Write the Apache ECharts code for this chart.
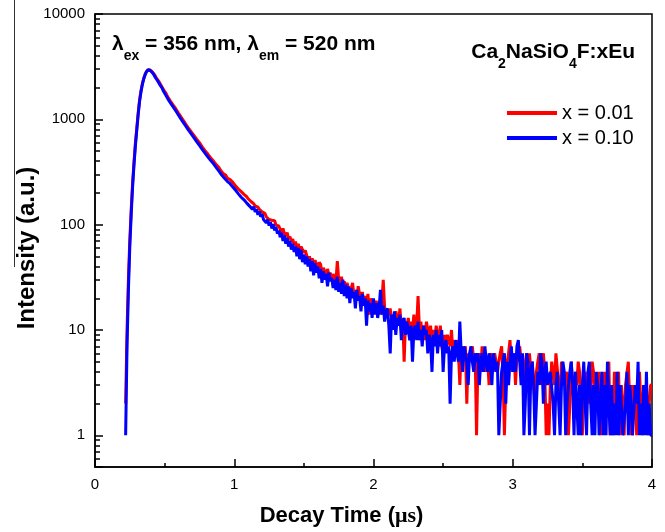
<!DOCTYPE html>
<html>
<head>
<meta charset="utf-8">
<script src="https://cdn.jsdelivr.net/npm/echarts@6/dist/echarts.min.js"></script>
<style>
  html, body { margin: 0; background: #fff; }
  #chart { width: 665px; height: 532px; }
</style>
</head>
<body>
<div id="chart"></div>
<script>
// time grid of the decay curves (μs)
const timeStart = 0.22;
const timeStep = 0.01;

// x = 0.01 (red), one row = 0.1 μs
const redValues = [
  2, 10, 31, 72, 140, 250, 392, 590, 822, 1150,
  1520, 1860, 2180, 2450, 2680, 2850, 2930, 2970, 2920, 2830,
  2730, 2620, 2480, 2400, 2280, 2190, 2040, 1960, 1840, 1760,
  1650, 1580, 1500, 1450, 1370, 1320, 1260, 1210, 1140, 1090,
  1045, 995, 950, 905, 875, 830, 800, 765, 738, 705,
  678, 648, 625, 600, 575, 548, 530, 505, 488, 468,
  452, 432, 420, 402, 392, 372, 360, 348, 330, 316,
  306, 296, 294, 276, 274, 268, 262, 252, 248, 232,
  226, 218, 212, 206, 200, 194, 188, 184, 176, 170,
  166, 162, 158, 151, 149, 147, 140, 141, 132, 131,
  128, 119, 124, 112, 117, 110, 106, 109, 99, 101,
  97, 90, 84, 92, 82, 78, 84, 73, 77, 69,
  73, 64, 69, 60, 66, 56, 62, 58, 54, 57,
  55, 46, 50, 42, 48, 40, 46, 42, 38, 44,
  42, 34, 39, 36, 31, 38, 33, 35, 30, 34,
  33, 28, 45, 30, 27, 32, 26, 29, 25, 28,
  27, 22, 25, 28, 21, 24, 20, 26, 22, 19,
  23, 18, 21, 17, 22, 14, 20, 16, 19, 17,
  19, 15, 17, 14, 18, 30, 16, 13, 15, 14,
  16, 12, 14, 11, 15, 13, 12, 16, 10, 13,
  5, 12, 11, 13, 9, 12, 10, 14, 9, 11,
  21, 10, 12, 9, 11, 8, 12, 10, 9, 11,
  7, 10, 8, 11, 9, 8, 11, 7, 6, 9,
  7, 9, 8, 7, 10, 6, 8, 7, 8, 6,
  3, 7, 6, 5, 7, 2, 6, 5, 6, 7,
  5, 6, 1, 5, 6, 4, 7, 5, 6, 4,
  5, 3, 6, 5, 4, 6, 5, 4, 5, 6,
  7, 4, 1, 3, 5, 6, 8, 5, 4, 6,
  3, 6, 5, 7, 5, 4, 3, 5, 6, 4,
  6, 4, 5, 3, 2, 4, 5, 6, 3, 5,
  6, 4, 1, 2, 1, 3, 5, 4, 3, 6,
  6, 3, 2, 5, 4, 3, 3, 4, 1, 2,
  5, 3, 2, 4, 3, 5, 4, 2, 1, 3,
  4, 2, 3, 2, 3, 5, 4, 2, 3, 2,
  4, 1, 3, 2, 4, 2, 3, 5, 1, 2,
  1, 4, 3, 2, 4, 1, 3, 2, 1, 3,
  3, 5, 2, 1, 3, 2, 3, 1, 2, 4,
  4, 1, 3, 2, 3, 1, 2, 3, 3
];

// x = 0.10 (blue)
const blueValues = [
  1, 7, 24, 62, 125, 228, 370, 560, 790, 1100,
  1480, 1820, 2140, 2420, 2650, 2830, 2960, 2950, 2890, 2800,
  2690, 2540, 2450, 2310, 2240, 2090, 2000, 1870, 1800, 1680,
  1610, 1510, 1470, 1380, 1340, 1260, 1240, 1150, 1110, 1040,
  1015, 950, 925, 870, 850, 795, 775, 730, 720, 670,
  655, 615, 608, 565, 552, 518, 508, 478, 472, 440,
  432, 408, 406, 380, 373, 350, 346, 322, 317, 296,
  293, 276, 272, 258, 263, 245, 248, 228, 232, 212,
  208, 196, 200, 182, 190, 172, 178, 160, 167, 150,
  152, 140, 148, 132, 140, 124, 134, 119, 126, 112,
  116, 104, 112, 98, 106, 92, 101, 88, 95, 82,
  88, 76, 84, 70, 79, 66, 75, 62, 70, 58,
  66, 55, 62, 50, 60, 47, 58, 44, 52, 42,
  50, 40, 47, 36, 45, 33, 43, 35, 40, 31,
  38, 28, 36, 30, 34, 26, 35, 29, 31, 25,
  30, 24, 32, 23, 28, 22, 30, 21, 27, 20,
  26, 18, 25, 20, 23, 16, 24, 19, 21, 15,
  22, 17, 20, 11, 19, 15, 18, 13, 20, 14,
  18, 13, 16, 24, 14, 17, 12, 15, 16, 11,
  6, 14, 10, 15, 9, 13, 11, 14, 8, 12,
  13, 9, 12, 10, 8, 11, 5, 10, 11, 8,
  12, 8, 10, 7, 11, 9, 10, 6, 9, 8,
  4, 9, 7, 10, 6, 9, 7, 10, 4, 7,
  8, 6, 7, 2, 6, 7, 5, 8, 6, 5,
  12, 6, 4, 7, 6, 5, 3, 6, 7, 5,
  4, 6, 5, 6, 3, 5, 6, 4, 7, 5,
  4, 6, 5, 3, 6, 5, 4, 5, 1, 2,
  4, 5, 6, 2, 5, 3, 5, 7, 4, 6,
  4, 7, 8, 5, 3, 6, 1, 2, 6, 5,
  1, 4, 5, 3, 1, 2, 4, 3, 6, 5,
  2, 4, 5, 3, 3, 4, 4, 2, 1, 3,
  4, 2, 1, 3, 5, 4, 1, 2, 3, 4,
  5, 3, 1, 4, 2, 1, 3, 1, 3, 5,
  2, 1, 4, 5, 2, 1, 3, 1, 4, 3,
  1, 2, 4, 1, 3, 1, 5, 2, 1, 3,
  1, 2, 1, 4, 1, 3, 2, 1, 1, 2,
  4, 1, 3, 2, 1, 1, 3, 2, 5, 1,
  2, 1, 3, 1, 4, 1, 2, 1, 1
];

const seriesNames = ["x = 0.01", "x = 0.10"];
const seriesColors = ["#ff0000", "#0000ff"];

// minor ticks of the log axis: 0.6..0.9, 2..9, 20..90 ...
const minorMultiples = [2, 3, 4, 5, 6, 7, 8, 9];
const minorDecades = [0.1, 1, 10, 100, 1000];
const yMin = 0.5;
const yMax = 10000;

const sans = '"Liberation Sans", Arial, sans-serif';

const times = redValues.map((v, i) => +(timeStart + i * timeStep).toFixed(2));

const minorTickPositions = [];
minorDecades.forEach((d) => {
  minorMultiples.forEach((m) => {
    if (d * m > yMin) minorTickPositions.push(Math.log10(d * m));
  });
});

// text with subscripts, laid out piece by piece
const mainSize = 21;
const subSize = 14;
const measureCtx = document.createElement("canvas").getContext("2d");
function textWidth(text, size) {
  measureCtx.font = `bold ${size}px ${sans}`;
  return measureCtx.measureText(text).width;
}
function subscriptText(parts, x, y, align) {
  const widths = parts.map(([s, sub]) => textWidth(s, sub ? subSize : mainSize));
  const total = widths.reduce((a, b) => a + b, 0);
  let cx = align === "right" ? x - total : x;
  return parts.map(([s, sub], i) => {
    const el = {
      type: "text",
      x: cx,
      y: sub ? y + 12 : y,
      silent: true,
      style: {
        text: s,
        fontSize: sub ? subSize : mainSize,
        fontWeight: "bold",
        fontFamily: sans,
        fill: "#000",
        verticalAlign: "middle"
      }
    };
    cx += widths[i];
    return el;
  });
}

const axisLineStyle = { color: "#000", width: 1.5 };

const chart = echarts.init(document.getElementById("chart"));
chart.setOption({
  animation: false,
  backgroundColor: "#fff",
  grid: {
    left: 95,
    right: 13,
    top: 14,
    bottom: 64,
    show: true,
    borderColor: "#000",
    borderWidth: 1.5
  },
  legend: {
    orient: "vertical",
    left: 507,
    top: 103,
    padding: 0,
    itemWidth: 50,
    itemHeight: 4,
    itemGap: 5,
    icon: "rect",
    textStyle: { fontSize: 20, lineHeight: 20, color: "#000", fontFamily: sans },
    data: seriesNames
  },
  xAxis: {
    type: "value",
    min: 0,
    max: 4,
    interval: 1,
    axisLine: { onZero: false, lineStyle: axisLineStyle },
    axisTick: { inside: true, length: 8, lineStyle: axisLineStyle },
    minorTick: { show: true, splitNumber: 2, length: 4, lineStyle: axisLineStyle },
    axisLabel: { margin: 10, fontSize: 15, color: "#000", fontFamily: sans },
    splitLine: { show: false },
    name: "Decay Time ({u|μs})",
    nameLocation: "middle",
    nameGap: 38,
    nameTextStyle: {
      fontSize: 22,
      fontWeight: "bold",
      color: "#000",
      fontFamily: sans,
      padding: [0, 64, 0, 0],
      rich: {
        u: { fontSize: 22, fontWeight: "bold", color: "#000", fontFamily: '"Liberation Serif", serif' }
      }
    }
  },
  yAxis: [
    {
      type: "log",
      logBase: 10,
      min: yMin,
      max: yMax,
      position: "left",
      axisLine: { show: true, lineStyle: axisLineStyle },
      axisTick: { inside: true, length: 8, lineStyle: axisLineStyle },
      axisLabel: {
        margin: 10,
        fontSize: 15,
        color: "#000",
        fontFamily: sans,
        formatter: (v) => (v < 1 ? "" : String(Math.round(v)))
      },
      splitLine: { show: false },
      name: "Intensity (a.u.)",
      nameLocation: "middle",
      nameGap: 56,
      nameMoveOverlap: false,
      nameTextStyle: {
        fontSize: 24,
        fontWeight: "bold",
        color: "#000",
        fontFamily: sans,
        padding: [0, 15, 0, 0]
      }
    },
    {
      // only carries the minor ticks of the log axis
      type: "value",
      min: Math.log10(yMin),
      max: Math.log10(yMax),
      position: "left",
      axisLine: { show: false },
      axisLabel: { show: false },
      splitLine: { show: false },
      axisTick: { show: true, inside: true, length: 5, customValues: minorTickPositions, lineStyle: axisLineStyle }
    }
  ],
  series: [
    {
      name: seriesNames[0],
      type: "line",
      data: times.map((t, i) => [t, redValues[i]]),
      showSymbol: false,
      symbol: "none",
      lineStyle: { width: 3, color: seriesColors[0] },
      itemStyle: { color: seriesColors[0] }
    },
    {
      name: seriesNames[1],
      type: "line",
      data: times.map((t, i) => [t, blueValues[i]]),
      showSymbol: false,
      symbol: "none",
      lineStyle: { width: 3, color: seriesColors[1] },
      itemStyle: { color: seriesColors[1] }
    }
  ],
  graphic: [
    { type: "line", silent: true, shape: { x1: 14.5, y1: 0, x2: 14.5, y2: 267 }, style: { stroke: "#333", lineWidth: 1 } },
    ...subscriptText([["λ", 0], ["ex", 1], [" = 356 nm, λ", 0], ["em", 1], [" = 520 nm", 0]], 112, 44, "left"),
    ...subscriptText([["Ca", 0], ["2", 1], ["NaSiO", 0], ["4", 1], ["F:xEu", 0]], 635, 52, "right")
  ]
});
</script>
</body>
</html>
